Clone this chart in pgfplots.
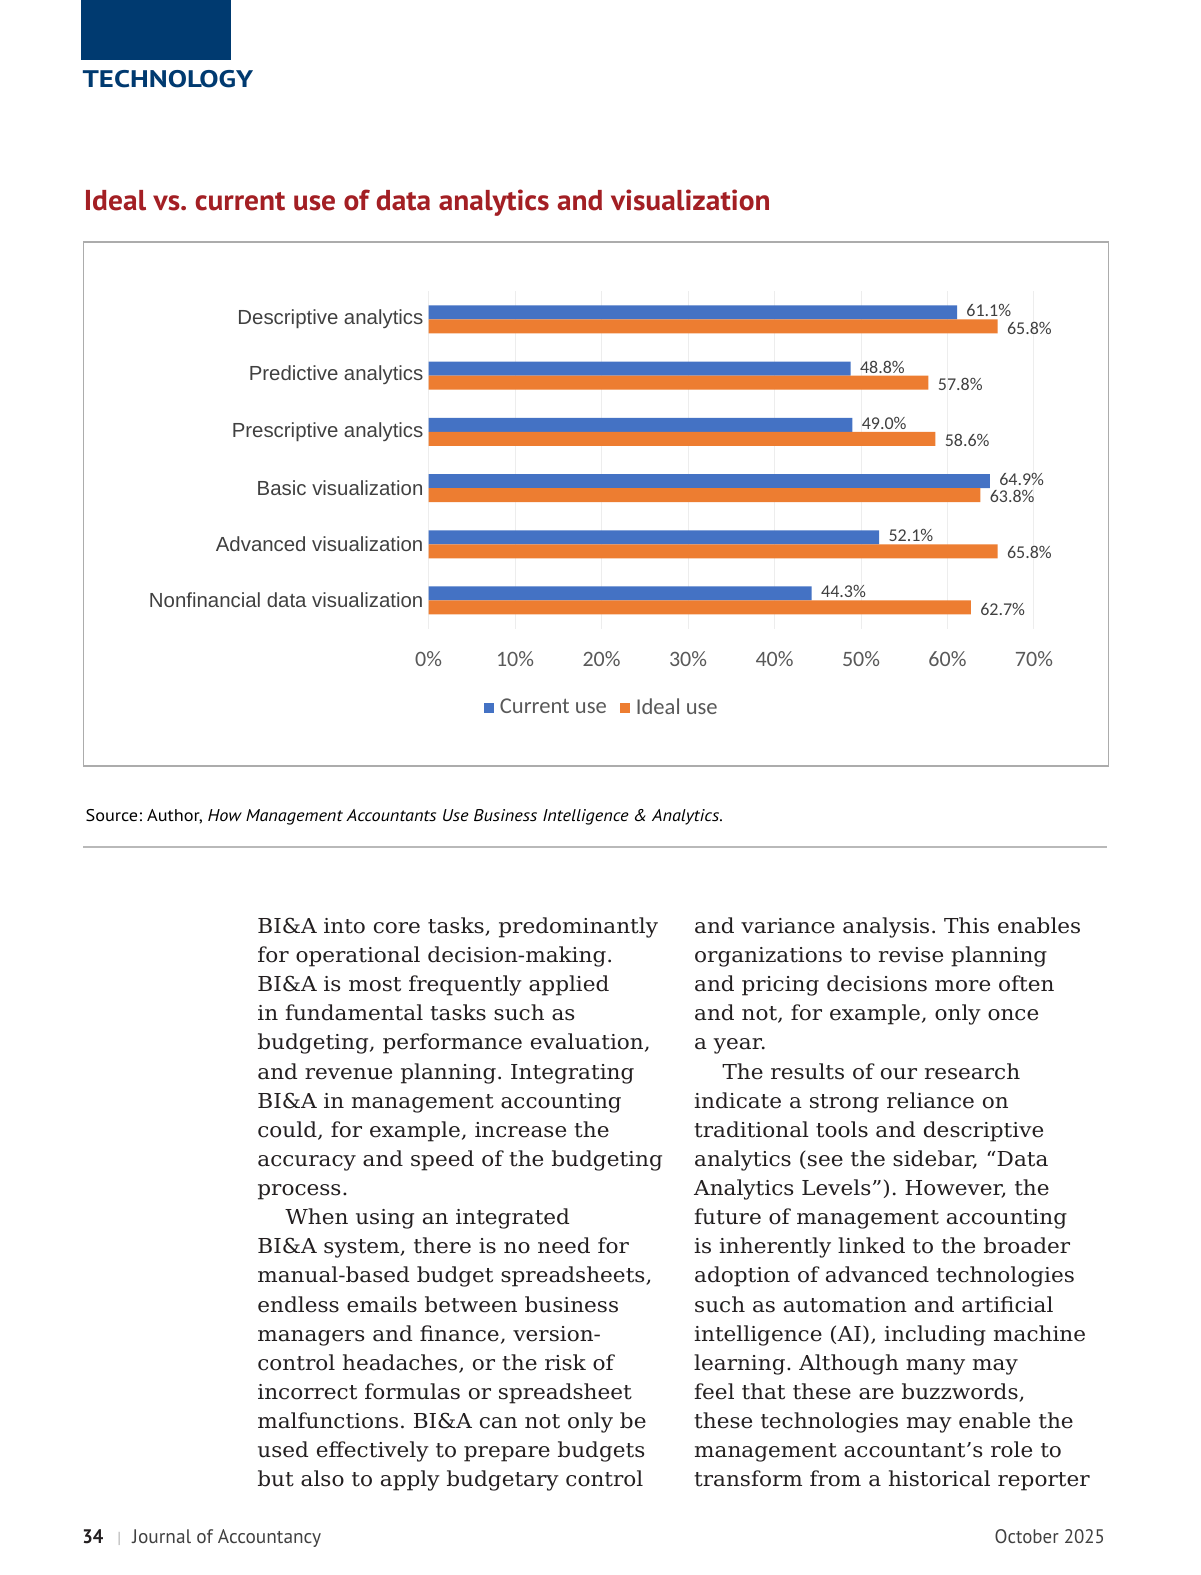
\documentclass[border=0pt]{standalone}
\usepackage{fontspec}
\usepackage{graphicx}
\usepackage{pgfplots}
\pgfplotsset{compat=1.18}
\setmainfont{Liberation Sans}
\newfontfamily\calibri{Carlito}
\newfontfamily\ptsans{PT Sans}
\newfontfamily\bodyserif{DejaVu Serif}
\definecolor{cblue}{HTML}{4472C4}
\definecolor{corange}{HTML}{ED7D31}
\definecolor{navy}{HTML}{003A70}
\definecolor{tred}{HTML}{A31F24}
\definecolor{txtgray}{HTML}{404040}
\definecolor{tickgray}{HTML}{595959}
\definecolor{bodyc}{HTML}{231F20}
\newlength\refw
\newcommand\bodyfont{\bodyserif\fontsize{10.3pt}{14.56pt}\selectfont}
\frenchspacing
\begin{document}%
\settowidth\refw{\bodyfont BI\&A into core tasks, predominantly}%
\pgfmathsetmacro\bs{200.3/\refw}%
\begin{tikzpicture}
\path[use as bounding box, fill=white] (0pt,0pt) rectangle (600pt,-787.5pt);
% header
\fill[navy] (40.6pt,0pt) rectangle (115.5pt,-30.1pt);
\node[anchor=base west, inner sep=0pt, text=navy] at (41.1pt,-43.9pt)
  {\resizebox{85.3pt}{\height}{\ptsans\bfseries\fontsize{12pt}{14pt}\selectfont TECHNOLOGY}};
\node[anchor=base west, inner sep=0pt, text=tred] at (41.7pt,-105.4pt)
  {\resizebox{343.4pt}{\height}{\ptsans\bfseries\fontsize{14.4pt}{16pt}\selectfont Ideal vs. current use of data analytics and visualization}};
% frame
\draw[color=gray!65, line width=0.6pt] (41.7pt,-121pt) rectangle (554.2pt,-383pt);
\begin{axis}[
  at={(214.3pt,-145.6pt)}, anchor=north west,
  scale only axis, width=302.7pt, height=168.7pt,
  xmin=0, xmax=70, ymin=-0.5, ymax=5.5,
  y dir=reverse, enlargelimits=false, clip=false,
  xbar=0pt, bar width=7pt,
  axis line style={draw=none}, tick style={draw=none}, major tick length=0pt,
  xmajorgrids, major grid style={draw=gray!14, line width=0.5pt},
  xtick={0,10,...,70},
  xticklabel={\pgfmathprintnumber{\tick}\%},
  /pgf/number format/assume math mode=true,
  xticklabel style={font=\calibri\fontsize{11pt}{13pt}\selectfont, text=tickgray, anchor=base, inner sep=0pt, yshift=-18.7pt},
  ytick={0,...,5},
  yticklabels={Descriptive analytics,Predictive analytics,Prescriptive analytics,Basic visualization,Advanced visualization,Nonfinancial data visualization},
  yticklabel style={font=\fontsize{10.2pt}{12pt}\selectfont, text=txtgray, anchor=east, inner sep=0pt, xshift=-2.4pt},
  point meta=x,
  nodes near coords={\pgfmathprintnumber[fixed,fixed zerofill,precision=1]{\pgfplotspointmeta}\%},
  every node near coord/.append style={font=\calibri\fontsize{9pt}{11pt}\selectfont, text=txtgray, anchor=west, inner sep=0pt, xshift=4.5pt},
  legend style={at={(axis description cs:0.287,-0.235)}, anchor=center, draw=none, fill=none,
    legend columns=-1, font=\calibri\fontsize{11.3pt}{13pt}\selectfont, text=tickgray,
    nodes={inner sep=1.5pt}, /tikz/every even column/.append style={column sep=5pt}},
  legend image code/.code={\fill[#1] (0pt,-2.5pt) rectangle (5pt,2.5pt);},
]
\addplot[fill=cblue, draw=none, bar shift=3.5pt, every node near coord/.append style={yshift=0.8pt}] coordinates {(61.1,0) (48.8,1) (49.0,2) (64.9,3) (52.1,4) (44.3,5)};
\addplot[fill=corange, draw=none, bar shift=-3.5pt, every node near coord/.append style={yshift=-0.8pt}] coordinates {(65.8,0) (57.8,1) (58.6,2) (63.8,3) (65.8,4) (62.7,5)};
\legend{\hspace{1.5pt}Current use, \hspace{1.5pt}Ideal use}
\end{axis}
% source and rule
\node[anchor=base west, inner sep=0pt, text=black] at (42.6pt,-410.6pt)
  {\resizebox{318.8pt}{\height}{\ptsans\fontsize{8.5pt}{10pt}\selectfont Source: Author, \textit{How Management Accountants Use Business Intelligence \& Analytics.}}};
\draw[line width=1pt, color=gray!55] (41.7pt,-423.7pt) -- (553.7pt,-423.7pt);
% body columns
\node[anchor=base west, inner sep=0pt, text=bodyc] at (128.5pt,-466.75pt)
 {\scalebox{\bs}[1]{\parbox[t]{240pt}{\bodyfont\raggedright
BI\&A into core tasks, predominantly\\
for operational decision-making.\\
BI\&A is most frequently applied\\
in fundamental tasks such as\\
budgeting, performance evaluation,\\
and revenue planning. Integrating\\
BI\&A in management accounting\\
could, for example, increase the\\
accuracy and speed of the budgeting\\
process.\\
\hspace*{13.5pt}When using an integrated\\
BI\&A system, there is no need for\\
manual-based budget spreadsheets,\\
endless emails between business\\
managers and finance, version-\\
control headaches, or the risk of\\
incorrect formulas or spreadsheet\\
malfunctions. BI\&A can not only be\\
used effectively to prepare budgets\\
but also to apply budgetary control}}};
\node[anchor=base west, inner sep=0pt, text=bodyc] at (346.9pt,-466.75pt)
 {\scalebox{\bs}[1]{\parbox[t]{240pt}{\bodyfont\raggedright
and variance analysis. This enables\\
organizations to revise planning\\
and pricing decisions more often\\
and not, for example, only once\\
a year.\\
\hspace*{13.5pt}The results of our research\\
indicate a strong reliance on\\
traditional tools and descriptive\\
analytics (see the sidebar, “Data\\
Analytics Levels”). However, the\\
future of management accounting\\
is inherently linked to the broader\\
adoption of advanced technologies\\
such as automation and artificial\\
intelligence (AI), including machine\\
learning. Although many may\\
feel that these are buzzwords,\\
these technologies may enable the\\
management accountant’s role to\\
transform from a historical reporter}}};
% footer
\node[anchor=base west, inner sep=0pt, text=bodyc] at (41pt,-771.5pt)
  {\resizebox{10.5pt}{\height}{\ptsans\bfseries\fontsize{9.8pt}{12pt}\selectfont 34}};
\node[anchor=base west, inner sep=0pt, text=gray!60] at (58.5pt,-771.5pt)
  {\ptsans\fontsize{8pt}{10pt}\selectfont |};
\node[anchor=base west, inner sep=0pt, text=txtgray] at (66pt,-771.5pt)
  {\resizebox{94.4pt}{\height}{\ptsans\fontsize{9.8pt}{12pt}\selectfont Journal of Accountancy}};
\node[anchor=base east, inner sep=0pt, text=txtgray] at (552.7pt,-771.5pt)
  {\resizebox{55.2pt}{\height}{\ptsans\fontsize{9.8pt}{12pt}\selectfont October 2025}};
\end{tikzpicture}%
\end{document}
